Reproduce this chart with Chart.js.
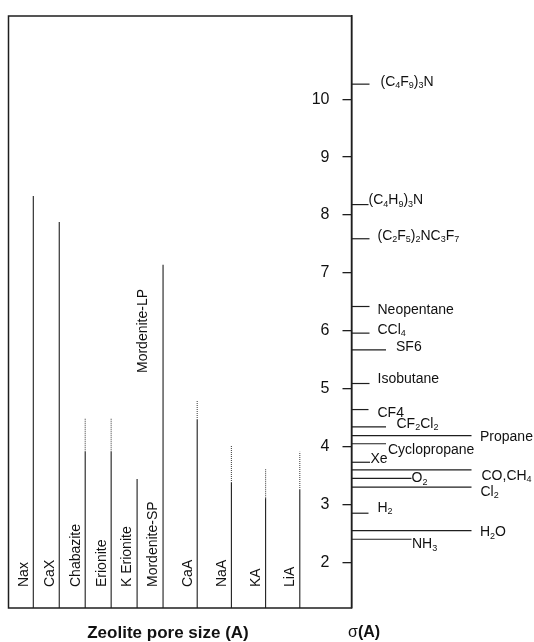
<!DOCTYPE html>
<html>
<head>
<meta charset="utf-8">
<script src="https://cdn.jsdelivr.net/npm/chart.js@4.4.1/dist/chart.umd.min.js"></script>
<style>
  html, body { margin: 0; padding: 0; background: #fff; }
  #wrap { width: 534px; height: 642px; }
</style>
</head>
<body>
<div id="wrap"><canvas id="c" width="534" height="642"></canvas></div>
<script>
// zeolites: pore size (top of line) and where the solid part stops (dotted above)
const zeolites = ['Nax', 'CaX', 'Chabazite', 'Erionite', 'K Erionite', 'Mordenite-SP', 'CaA', 'NaA', 'KA', 'LiA'];
const zeoliteTop = [8.33, 7.88, 4.50, 4.49, 3.44, 7.14, 4.79, 4.03, 3.61, 3.91];
const zeoliteSolid = [8.33, 7.88, 3.91, 3.91, 3.44, 7.14, 4.46, 3.37, 3.11, 3.25];
const extraLabel = 'Mordenite-LP';

// molecules: kinetic diameter sigma (A); {n} = subscript
const molecules = ['(C{4}F{9}){3}N', '(C{4}H{9}){3}N', '(C{2}F{5}){2}NC{3}F{7}', 'Neopentane', 'CCl{4}', 'SF6',
  'Isobutane', 'CF4', 'CF{2}Cl{2}', 'Propane', 'Cyclopropane', 'Xe', 'CO,CH{4}', 'O{2}', 'Cl{2}', 'H{2}', 'H{2}O', 'NH{3}'];
const sigma = [10.26, 8.18, 7.59, 6.42, 5.96, 5.67, 5.09, 4.64, 4.34, 4.19, 4.05, 3.73, 3.60, 3.45, 3.30, 2.85, 2.55, 2.40];

const yTicks = [2, 3, 4, 5, 6, 7, 8, 9, 10];

// layout (pixels)
const axisX = 351.5, boxLeft = 8.5;
const yMin = 1.213, yMax = 11.437;
function slotX(i) { return i < 6 ? 33.3 + 25.95 * i : 163 + 34.2 * (i - 5); }
// per molecule: line length, gap to label, label vertical shift
const molLayout = [
  [18, 11, -2], [17, 0, -4], [18, 8, -3], [18, 8, 4], [18, 8, -3], [34.5, 10, -3],
  [18, 8, -4], [17, 9, 4], [34.5, 10.5, -3], [120, 8.5, 2], [34.5, 2, 6], [18.5, 0.5, -3],
  [120, 10, 6], [60, 0, 0], [120, 9, 5], [17, 9, -5], [120, 8.5, 2], [60, 0.5, 5]
];

const ink = '#1e1e1e';
const datasets = [];
zeolites.forEach((z, i) => {
  const x = slotX(i);
  datasets.push({ data: [{x: x, y: yMin}, {x: x, y: zeoliteSolid[i]}], borderColor: ink, borderWidth: 1.1, clip: false });
  if (zeoliteTop[i] > zeoliteSolid[i]) {
    datasets.push({ data: [{x: x, y: zeoliteSolid[i]}, {x: x, y: zeoliteTop[i]}],
      borderColor: '#4a4a4a', borderWidth: 1.1, borderDash: [1, 1], clip: false });
  }
});
molecules.forEach((m, i) => {
  datasets.push({ data: [{x: axisX, y: sigma[i]}, {x: axisX + molLayout[i][0], y: sigma[i]}],
    borderColor: ink, borderWidth: 1.2, clip: false });
});

function drawFormula(ctx, str, x, y, size) {
  const parts = str.split(/(\{[^}]*\})/).filter(s => s.length);
  let cx = x;
  parts.forEach(p => {
    if (p[0] === '{') {
      ctx.font = Math.round(size * 0.66) + 'px "Liberation Sans", Arial, sans-serif';
      const t = p.slice(1, -1);
      ctx.fillText(t, cx, y + size * 0.27);
      cx += ctx.measureText(t).width;
    } else {
      ctx.font = size + 'px "Liberation Sans", Arial, sans-serif';
      ctx.fillText(p, cx, y);
      cx += ctx.measureText(p).width;
    }
  });
}

const labels = {
  id: 'labels',
  afterDatasetsDraw(chart) {
    const ctx = chart.ctx, xs = chart.scales.x, ys = chart.scales.y, area = chart.chartArea;
    ctx.save();
    // frame
    ctx.strokeStyle = ink; ctx.lineWidth = 1.5;
    ctx.strokeRect(xs.getPixelForValue(boxLeft), area.top, xs.getPixelForValue(axisX) - xs.getPixelForValue(boxLeft), area.bottom - area.top);
    ctx.fillStyle = '#111';
    ctx.textBaseline = 'middle';
    // zeolite names, rotated
    ctx.font = '14px "Liberation Sans", Arial, sans-serif';
    ctx.textAlign = 'left';
    zeolites.forEach((z, i) => {
      ctx.save();
      ctx.translate(xs.getPixelForValue(slotX(i)) - 9.5, 587);
      ctx.rotate(-Math.PI / 2);
      ctx.fillText(z, 0, 0);
      ctx.restore();
    });
    ctx.save();
    ctx.translate(xs.getPixelForValue(slotX(5)) - 19.7, 373);
    ctx.rotate(-Math.PI / 2);
    ctx.fillText(extraLabel, 0, 0);
    ctx.restore();
    // molecule names
    molecules.forEach((m, i) => {
      const [len, gap, dy] = molLayout[i];
      drawFormula(ctx, m, xs.getPixelForValue(axisX + len + gap), ys.getPixelForValue(sigma[i]) + dy, 14);
    });
    // axis titles
    ctx.font = 'bold 17px "Liberation Sans", Arial, sans-serif';
    ctx.textAlign = 'center';
    ctx.fillText('Zeolite pore size (A)', 168, 633);
    ctx.textAlign = 'left';
    ctx.font = '16px "Liberation Sans", Arial, sans-serif';
    ctx.fillText('σ', 348, 633);
    const w = ctx.measureText('σ').width;
    ctx.font = 'bold 16px "Liberation Sans", Arial, sans-serif';
    ctx.fillText('(A)', 348 + w, 633);
    ctx.restore();
  }
};

new Chart(document.getElementById('c'), {
  type: 'scatter',
  data: { datasets: datasets },
  options: {
    responsive: false,
    animation: false,
    showLine: true,
    elements: { point: { radius: 0, hoverRadius: 0 }, line: { tension: 0 } },
    layout: { padding: { top: 16, bottom: 34, left: 0, right: 0 } },
    plugins: { legend: { display: false }, tooltip: { enabled: false } },
    scales: {
      x: { type: 'linear', min: axisX, max: 534, display: false },
      y: {
        type: 'linear', position: 'left', min: yMin, max: yMax,
        afterBuildTicks: axis => { axis.ticks = yTicks.map(v => ({ value: v })); },
        afterFit: axis => { axis.width = axisX; axis.paddingTop = 0; axis.paddingBottom = 0; },
        grid: { drawOnChartArea: false, tickLength: 9, color: ink, lineWidth: 1.3 },
        border: { color: ink, width: 1.5 },
        ticks: { font: { size: 16, family: '"Liberation Sans", Arial, sans-serif' }, color: '#111', padding: 13 }
      }
    }
  },
  plugins: [labels]
});
</script>
</body>
</html>
